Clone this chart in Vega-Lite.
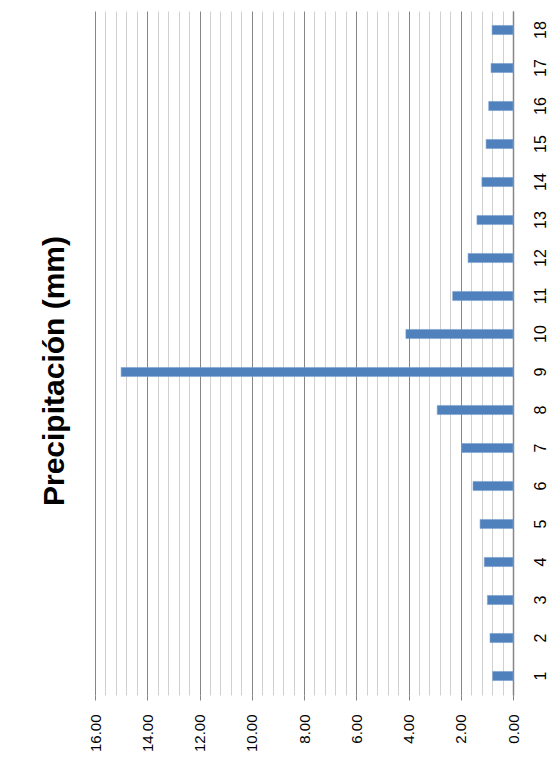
{
  "$schema": "https://vega.github.io/schema/vega-lite/v6.json",
  "autosize": {"type": "none"},
  "width": 418,
  "height": 684,
  "padding": {"left": 95, "top": 11, "right": 44, "bottom": 87},
  "background": "white",
  "title": {
    "text": "Precipitación (mm)",
    "orient": "left",
    "anchor": "middle",
    "font": "Liberation Sans",
    "fontSize": 30,
    "fontWeight": "bold",
    "color": "black",
    "offset": 18,
    "dx": -18
  },
  "data": {
    "values": [
      {"dia": 1, "mm": 0.78},
      {"dia": 2, "mm": 0.88},
      {"dia": 3, "mm": 0.98},
      {"dia": 4, "mm": 1.10},
      {"dia": 5, "mm": 1.26},
      {"dia": 6, "mm": 1.53},
      {"dia": 7, "mm": 1.96},
      {"dia": 8, "mm": 2.90},
      {"dia": 9, "mm": 15.0},
      {"dia": 10, "mm": 4.10},
      {"dia": 11, "mm": 2.31},
      {"dia": 12, "mm": 1.72},
      {"dia": 13, "mm": 1.38},
      {"dia": 14, "mm": 1.19},
      {"dia": 15, "mm": 1.03},
      {"dia": 16, "mm": 0.93},
      {"dia": 17, "mm": 0.84},
      {"dia": 18, "mm": 0.80}
    ]
  },
  "config": {
    "view": {"stroke": null},
    "axis": {"labelFont": "Liberation Sans", "labelColor": "black"}
  },
  "resolve": {"axis": {"x": "independent", "y": "independent"}},
  "layer": [
    {
      "mark": {"type": "bar", "opacity": 0},
      "encoding": {
        "x": {
          "field": "mm",
          "type": "quantitative",
          "scale": {"domain": [0, 16], "reverse": true, "nice": false},
          "axis": {
            "orient": "top",
            "values": [0.4, 0.8, 1.2, 1.6, 2.4, 2.8, 3.2, 3.6, 4.4, 4.8, 5.2, 5.6, 6.4, 6.8, 7.2, 7.6, 8.4, 8.8, 9.2, 9.6, 10.4, 10.8, 11.2, 11.6, 12.4, 12.8, 13.2, 13.6, 14.4, 14.8, 15.2, 15.6],
            "grid": true,
            "gridColor": "#d0d0d0",
            "gridWidth": 1,
            "gridOpacity": 1,
            "labels": false,
            "ticks": false,
            "domain": false,
            "title": null
          }
        },
        "y": {
          "field": "dia",
          "type": "ordinal",
          "sort": "descending",
          "scale": {"paddingInner": 0.76, "paddingOuter": 0.38},
          "axis": null
        }
      }
    },
    {
      "mark": {"type": "bar", "color": "#4F81BD", "stroke": "#7EA1CF", "strokeWidth": 0.6},
      "encoding": {
        "x": {
          "field": "mm",
          "type": "quantitative",
          "scale": {"domain": [0, 16], "reverse": true, "nice": false},
          "axis": {
            "orient": "bottom",
            "values": [0, 2, 4, 6, 8, 10, 12, 14, 16],
            "format": ".2f",
            "grid": true,
            "gridColor": "#868686",
            "gridWidth": 1,
            "gridOpacity": 1,
            "domain": false,
            "ticks": true,
            "tickColor": "#868686",
            "tickSize": 5,
            "labelAngle": -90,
            "labelPadding": 14,
            "labelFontSize": 15,
            "title": null
          }
        },
        "y": {
          "field": "dia",
          "type": "ordinal",
          "sort": "descending",
          "scale": {"paddingInner": 0.76, "paddingOuter": 0.38},
          "axis": {
            "orient": "right",
            "domain": true,
            "domainColor": "#868686",
            "domainWidth": 1.5,
            "ticks": false,
            "grid": false,
            "labelAngle": -90,
            "labelPadding": 19,
            "labelFontSize": 16,
            "title": null
          }
        }
      }
    }
  ]
}
